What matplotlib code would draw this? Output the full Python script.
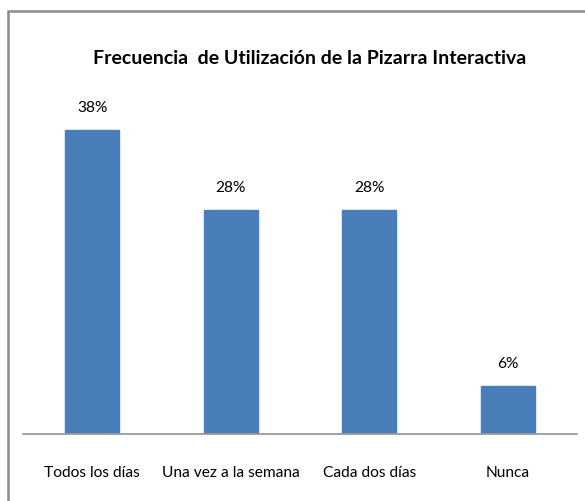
import matplotlib
matplotlib.use("Agg")
import matplotlib.pyplot as plt
from matplotlib.patches import Rectangle

categories = ["Todos los días", "Una vez a la semana", "Cada dos días", "Nunca"]
values = [38, 28, 28, 6]
value_labels = ["38%", "28%", "28%", "6%"]
title = "Frecuencia  de Utilización de la Pizarra Interactiva"

plt.rcParams['font.family'] = ['Lato', 'DejaVu Sans']

W, H = 585, 501
fig = plt.figure(figsize=(W / 100, H / 100), dpi=100)
fig.patch.set_facecolor("white")

# outer chart border (cropped at right/bottom)
fig.add_artist(Rectangle((8 / W, -0.1), 1.2, (H - 11) / H + 0.1, transform=fig.transFigure,
                         fill=False, edgecolor="#8c8c8c", linewidth=1.8))

ax = fig.add_axes([23 / W, (H - 434) / H, (577 - 23) / W, (434 - 114) / H])
x = range(len(categories))
bars = ax.bar(x, values, width=0.39, color="#4A7EBB", edgecolor="#4A7EBB")
ax.set_xlim(-0.5, len(categories) - 0.5)
ax.set_ylim(0, 40)
for s in ["top", "right", "left"]:
    ax.spines[s].set_visible(False)
ax.spines["bottom"].set_color("#9a9a9a")
ax.spines["bottom"].set_linewidth(1.3)
ax.set_yticks([])
ax.set_xticks(list(x))
ax.set_xticklabels(categories, fontsize=11.2)
ax.tick_params(axis="x", length=0, pad=23)

for xi, v, lab in zip(x, values, value_labels):
    ax.annotate(lab, (xi, v), xytext=(0, 11), textcoords="offset points",
                ha="center", va="bottom", fontsize=11.2)

fig.text(310 / W, 1 - 58 / H, title, ha="center", va="center",
         fontsize=14, fontweight="bold")

fig.savefig("out.png", dpi=100)
